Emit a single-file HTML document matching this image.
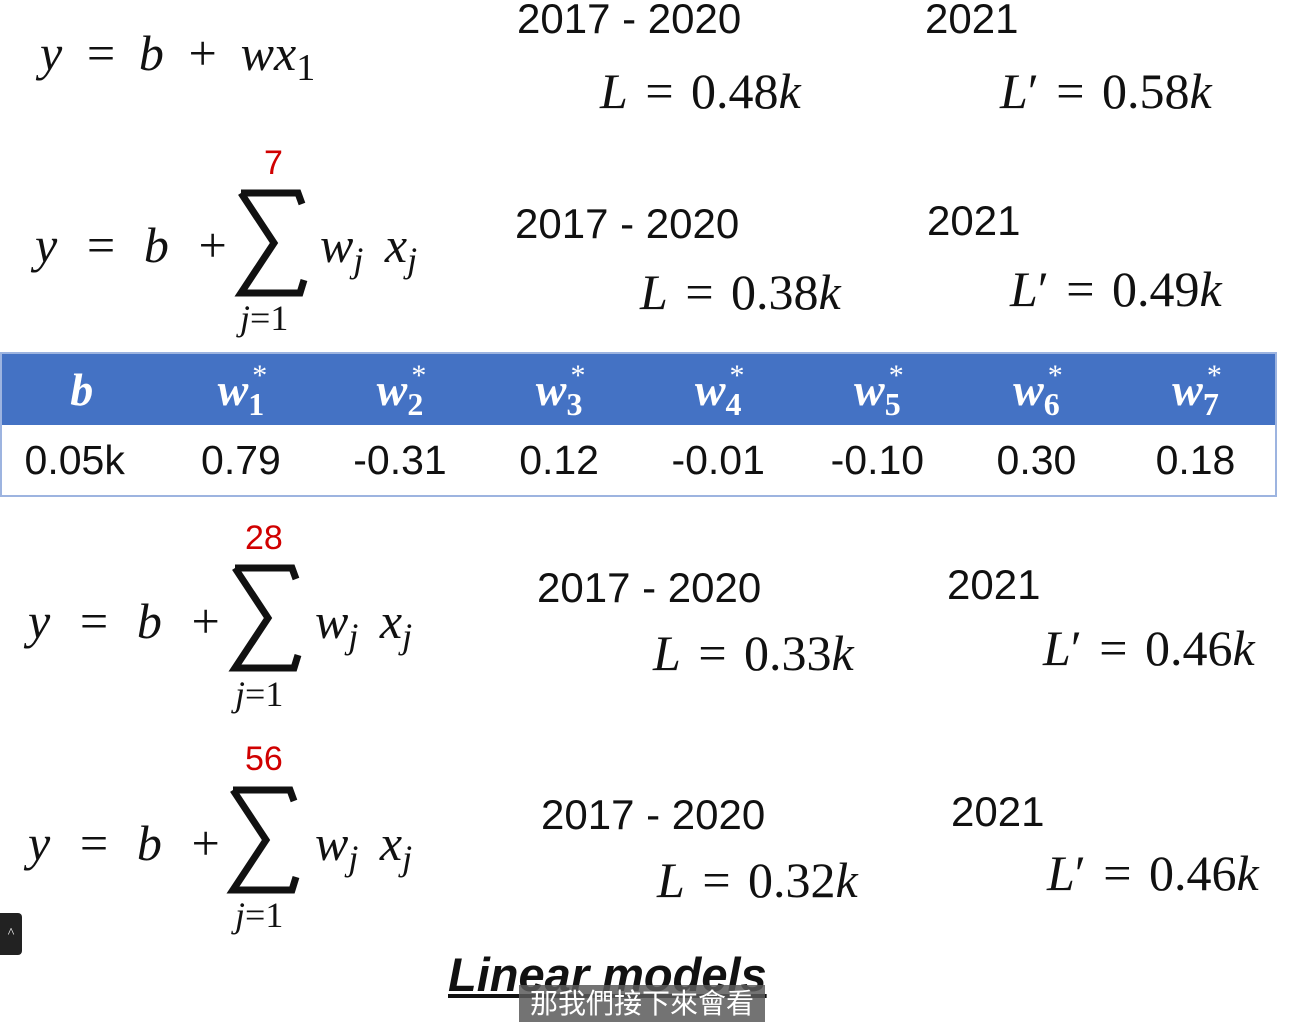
<!DOCTYPE html>
<html><head><meta charset="utf-8">
<style>
html,body{margin:0;padding:0;background:#fff;}
body{width:1310px;height:1032px;position:relative;overflow:hidden;}
.a{position:absolute;white-space:nowrap;line-height:1;}
.s{font-family:"Liberation Sans",sans-serif;font-size:42px;color:#111;}
.m{font-family:"Liberation Serif",serif;font-style:italic;font-size:50px;color:#111;word-spacing:9px;}
.l{word-spacing:5px;}
.r{font-family:"Liberation Sans",sans-serif;font-size:34px;color:#d00000;}
.sb{font-family:"Liberation Serif",serif;font-size:36px;position:relative;top:10px;}
.sbu{font-family:"Liberation Serif",serif;font-style:normal;font-size:38px;position:relative;top:10px;}
table{position:absolute;left:0;top:352px;width:1277px;border-collapse:collapse;border:2px solid #9db4e0;}
th{background:#4472c4;color:#fff;height:71px;font-family:"Liberation Serif",serif;font-style:italic;font-weight:bold;font-size:46px;width:160px;padding:0;}
th .st{display:inline-block;vertical-align:top;font-size:30px;line-height:1;width:0;position:relative;left:4px;top:-2px;font-style:normal;font-weight:normal;}
th .n{font-size:32px;font-style:normal;position:relative;top:10px;}
td{height:70px;font-family:"Liberation Sans",sans-serif;font-size:41px;color:#111;text-align:center;padding:0;}
svg.sig{position:absolute;overflow:visible;}
</style></head><body>

<div class="a m" style="left:40px;top:28px;">y = b + wx<span class="sbu">1</span></div>
<div class="a s" style="left:517px;top:-2px;">2017 - 2020</div>
<div class="a m l" style="left:600px;top:66px;font-style:normal"><i>L</i> = 0.48<i>k</i></div>
<div class="a s" style="left:925px;top:-2px;">2021</div>
<div class="a m l" style="left:1000px;top:66px;font-style:normal"><i>L</i>′ = 0.58<i>k</i></div>

<!-- model 2 -->
<div class="a r" style="left:264px;top:146px;">7</div>
<div class="a m" style="left:35px;top:220px;word-spacing:14px;">y = b +</div>
<svg class="sig" style="left:238px;top:190px;" width="68" height="106"><path d="M3,3 L60,3 L64,14 M3,3 L36,53 L3,103 L62,103 L66,90" fill="none" stroke="#111" stroke-width="7" stroke-linejoin="miter"/></svg>
<div class="a m" style="left:320px;top:220px;">w<span class="sb">j</span> x<span class="sb">j</span></div>
<div class="a m" style="left:240px;top:300px;font-size:36px;">j<span style="font-style:normal">=1</span></div>
<div class="a s" style="left:515px;top:203px;">2017 - 2020</div>
<div class="a m l" style="left:640px;top:267px;font-style:normal"><i>L</i> = 0.38<i>k</i></div>
<div class="a s" style="left:927px;top:200px;">2021</div>
<div class="a m l" style="left:1010px;top:264px;font-style:normal"><i>L</i>′ = 0.49<i>k</i></div>

<table>
<tr><th>b</th><th>w<span class="st">*</span><span class="n">1</span></th><th>w<span class="st">*</span><span class="n">2</span></th><th>w<span class="st">*</span><span class="n">3</span></th><th>w<span class="st">*</span><span class="n">4</span></th><th>w<span class="st">*</span><span class="n">5</span></th><th>w<span class="st">*</span><span class="n">6</span></th><th>w<span class="st">*</span><span class="n">7</span></th></tr>
<tr><td style="padding-right:14px">0.05k</td><td>0.79</td><td>-0.31</td><td>0.12</td><td>-0.01</td><td>-0.10</td><td>0.30</td><td>0.18</td></tr>
</table>

<!-- model 3 -->
<div class="a r" style="left:245px;top:521px;">28</div>
<div class="a m" style="left:28px;top:596px;word-spacing:14px;">y = b +</div>
<svg class="sig" style="left:232px;top:565px;" width="68" height="106"><path d="M3,3 L60,3 L64,14 M3,3 L36,53 L3,103 L62,103 L66,90" fill="none" stroke="#111" stroke-width="7"/></svg>
<div class="a m" style="left:315px;top:596px;">w<span class="sb">j</span> x<span class="sb">j</span></div>
<div class="a m" style="left:235px;top:676px;font-size:36px;">j<span style="font-style:normal">=1</span></div>
<div class="a s" style="left:537px;top:567px;">2017 - 2020</div>
<div class="a m l" style="left:653px;top:628px;font-style:normal"><i>L</i> = 0.33<i>k</i></div>
<div class="a s" style="left:947px;top:564px;">2021</div>
<div class="a m l" style="left:1043px;top:623px;font-style:normal"><i>L</i>′ = 0.46<i>k</i></div>

<!-- model 4 -->
<div class="a r" style="left:245px;top:742px;">56</div>
<div class="a m" style="left:28px;top:818px;word-spacing:14px;">y = b +</div>
<svg class="sig" style="left:230px;top:787px;" width="68" height="106"><path d="M3,3 L60,3 L64,14 M3,3 L36,53 L3,103 L62,103 L66,90" fill="none" stroke="#111" stroke-width="7"/></svg>
<div class="a m" style="left:315px;top:818px;">w<span class="sb">j</span> x<span class="sb">j</span></div>
<div class="a m" style="left:235px;top:897px;font-size:36px;">j<span style="font-style:normal">=1</span></div>
<div class="a s" style="left:541px;top:794px;">2017 - 2020</div>
<div class="a m l" style="left:657px;top:855px;font-style:normal"><i>L</i> = 0.32<i>k</i></div>
<div class="a s" style="left:951px;top:791px;">2021</div>
<div class="a m l" style="left:1047px;top:848px;font-style:normal"><i>L</i>′ = 0.46<i>k</i></div>

<div class="a" style="left:448px;top:951px;font-family:'Liberation Sans',sans-serif;font-weight:bold;font-style:italic;font-size:47px;color:#111;text-decoration:underline;">Linear models</div>
<div class="a" style="left:519px;top:985px;width:246px;height:37px;background:rgba(90,90,90,0.85);color:#fff;font-family:'Liberation Sans','Noto Sans CJK TC',sans-serif;font-size:28px;line-height:37px;text-align:center;">那我們接下來會看</div>
<div class="a" style="left:0;top:913px;width:22px;height:42px;background:#222;border-radius:0 4px 4px 0;color:#fff;font-size:14px;line-height:42px;text-align:center;">^</div>
</body></html>
